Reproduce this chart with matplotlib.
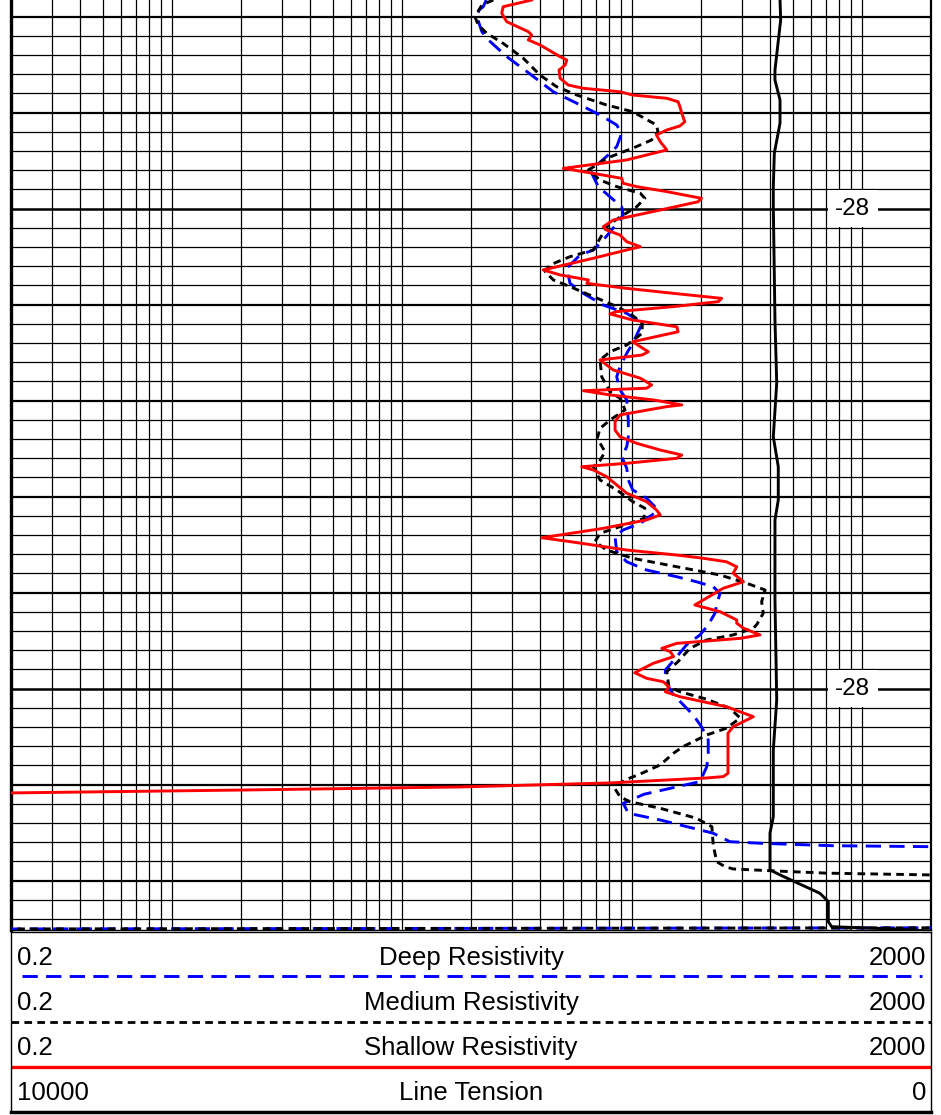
import numpy as np
import matplotlib.pyplot as plt

plt.rcParams['font.family'] = ['Liberation Sans', 'DejaVu Sans']
plt.rcParams['lines.scale_dashes'] = False

# depth in track units: one minor grid step = 1
shallow_depth = [-0.87, -0.52, -0.18, 0.26, 0.78, 0.95, 1.21, 1.47, 2.08, 2.26,
                 2.52, 2.78, 3.21, 3.56, 3.73, 3.91, 4.08, 4.25, 4.43, 4.69,
                 5.03, 5.47, 5.69, 5.90, 6.16, 6.51, 6.94, 7.46, 7.90, 8.16,
                 8.42, 8.68, 8.85, 9.11, 9.46, 9.64, 10.07, 10.59, 10.94, 11.11,
                 11.37, 11.72, 11.98, 12.15, 12.58, 13.19, 13.45, 13.71, 13.89, 14.15,
                 14.41, 14.67, 14.84, 15.10, 15.36, 15.48, 15.80, 16.15, 16.41, 16.93,
                 17.19, 17.45, 17.62, 17.88, 18.40, 18.83, 19.18, 19.35, 19.48, 19.70,
                 19.96, 20.22, 20.31, 20.74, 21.09, 21.53, 21.88, 22.22, 22.57, 22.83,
                 23.00, 23.26, 23.44, 23.61, 23.96, 24.39, 24.82, 25.26, 25.69, 25.95,
                 26.21, 26.65, 27.14, 27.34, 27.78, 28.04, 28.21, 28.39, 28.65, 28.99,
                 29.43, 29.77, 30.64, 30.99, 31.42, 31.59, 31.85, 32.20, 32.38, 32.64,
                 32.90, 33.07, 33.33, 33.68, 34.17, 34.46, 34.64, 34.90, 35.16, 35.42,
                 35.94, 36.46, 36.98, 37.32, 39.41, 39.58, 39.65, 39.91, 40.12, 40.28,
                 40.43]
shallow_res = [36.7, 27.6, 27.2, 28.6, 35.5, 36.7, 35.5, 39.9, 48.8, 52.2,
               51.3, 48.3, 48.8, 53.0, 61.6, 88.9, 101, 142, 159, 162,
               165, 170, 162, 142, 128, 133, 142, 95.1, 50.4, 68.1,
               90.4, 91.8, 105, 142, 201, 194, 133, 83.1, 75.2, 77.8,
               88.9, 95.1, 109, 95.1, 68.1, 41.2, 48.8, 64.8, 63.8, 95.1,
               152, 246, 238, 152, 86.0, 80.4, 101, 157, 159, 101,
               109, 118, 111, 72.8, 83.1, 109, 122, 116, 61.6, 80.4,
               124, 165, 142, 88.9, 84.6, 84.6, 88.9, 105, 133, 165,
               157, 95.1, 60.6, 68.1, 77.8, 86.0, 95.1, 116, 128, 133,
               116, 75.2, 40.6, 53.9, 95.1, 157, 205, 258, 286, 276,
               306, 250, 188, 242, 286, 286, 306, 361, 296, 157,
               135, 147, 152, 124, 103, 116, 137, 145, 140, 162,
               258, 338, 276, 262, 262, 250, 212, 80.4, 17.9, 2.0,
               0.2]

medium_depth = [-0.87, -0.61, 0, 0.43, 0.86, 1.39, 2.17, 3.04, 3.65, 4.08,
                4.60, 4.95, 5.64, 5.99, 6.42, 6.85, 7.20, 7.38, 7.72, 7.98,
                8.51, 8.85, 9.20, 9.46, 9.90, 10.33, 10.85, 11.54, 12.15, 12.50,
                12.93, 13.28, 13.71, 14.06, 14.58, 15.02, 15.45, 15.97, 16.49, 17.10,
                17.45, 17.88, 18.75, 19.53, 19.88, 20.48, 21.01, 21.44, 21.96, 22.66,
                23.11, 23.44, 23.61, 24.13, 24.65, 25.26, 25.60, 26.13, 26.56, 26.91,
                27.34, 27.78, 28.21, 28.65, 29.08, 29.51, 29.86, 30.47, 31.07, 31.65,
                31.85, 32.20, 32.46, 32.90, 33.59, 34.11, 34.90, 35.16, 35.55, 36.02,
                36.53, 37.06, 37.41, 38.02, 38.36, 38.97, 39.44, 39.72, 40.02, 40.22,
                40.63, 40.89, 41.23, 41.75, 42.19, 43.14, 44.01, 44.27, 44.39, 44.49,
                44.61, 44.70, 44.75, 47.45, 47.52]
medium_res = [25.0, 22.3, 20.8, 21.5, 23.4, 27.6, 33.8, 39.9, 47.2, 57.7,
              77.8, 101, 128, 130, 122, 101, 84.6, 77.8, 70.4, 64.8,
              72.8, 86.0, 109, 114, 105, 91.8, 79.0, 72.8, 68.1, 53.9,
              44.1, 42.0, 45.6, 53.9, 68.1, 83.1, 98.2, 111, 111, 95.1,
              80.4, 72.8, 74.0, 80.4, 88.9, 93.5, 80.4, 72.8, 70.8, 76.5,
              72.8, 68.1, 69.2, 72.8, 86.0, 101, 114, 113, 88.9, 72.8,
              69.2, 77.8, 101, 157, 242, 316, 380, 367, 373, 350,
              338, 276, 212, 179, 159, 142, 145, 162, 212, 267,
              296, 258, 212, 167, 152, 133, 109, 95.1, 86.0, 84.6,
              88.9, 98.2, 133, 191, 223, 226, 234, 254, 276, 412,
              706, 1980, 5000, 5000, 0.1]

deep_depth = [-0.87, -0.52, -0.35, 0, 0.78, 1.21, 2.08, 2.86, 3.91, 4.51,
              5.12, 5.64, 6.07, 6.77, 7.20, 7.81, 8.16, 8.85, 9.38, 9.90,
              10.33, 11.11, 11.63, 12.15, 12.41, 13.10, 13.89, 14.41, 15.02, 15.45,
              15.97, 17.01, 17.53, 18.23, 18.75, 19.44, 19.96, 21.01, 21.88, 22.40,
              22.92, 23.52, 24.13, 24.65, 25.08, 25.52, 25.78, 26.39, 26.73, 27.08,
              27.86, 28.39, 28.82, 29.17, 29.43, 29.69, 30.03, 30.64, 31.07, 31.68,
              32.20, 32.72, 33.33, 34.03, 34.64, 35.33, 35.76, 36.37, 36.98, 37.67,
              38.36, 39.06, 39.84, 40.19, 40.50, 40.97, 41.49, 41.84, 42.27, 42.53,
              42.97, 43.05, 43.18, 43.23, 43.27, 47.45, 47.52]
deep_res = [23.3, 22.6, 21.7, 21.2, 22.3, 23.8, 28.6, 35.0, 45.6, 57.7,
            72.8, 86.0, 90.4, 86.0, 79.0, 69.2, 67.0, 71.5, 80.4, 90.4,
            91.8, 81.8, 75.2, 68.1, 59.6, 52.2, 53.9, 61.6, 75.2, 95.1,
            111, 101, 95.1, 88.9, 86.0, 88.9, 95.1, 96.6, 96.6, 95.1,
            90.4, 95.1, 96.6, 101, 116, 126, 128, 109, 91.8, 84.6,
            86.0, 95.1, 116, 157, 191, 226, 242, 234, 230, 215,
            198, 173, 157, 140, 140, 152, 165, 185, 201, 215,
            215, 212, 198, 147, 113, 91.8, 96.6, 133, 185, 226,
            267, 361, 742, 1980, 5000, 5000, 0.1]

tension_depth = [-0.87, 0.17, 2.78, 3.30, 4.34, 5.54, 7.11, 8.85, 9.90, 15.80,
                 19.08, 21.88, 23.44, 25.17, 26.21, 30.38, 35.59, 38.19, 41.67, 42.52,
                 44.44, 44.70, 45.02, 45.66, 46.09, 47.14, 47.40, 47.45, 47.52, 47.62]
tension = [1641, 1634, 1696, 1696, 1641, 1641, 1703, 1714, 1714, 1696,
           1677, 1714, 1660, 1660, 1696, 1696, 1677, 1714, 1714, 1750,
           1750, 1641, 1497, 1207, 1116, 1116, 1079, 772, 413, 11]

depth_marks = [10, 35]
depth_labels = ['-28', '-28']

curve_names = ['Deep Resistivity', 'Medium Resistivity', 'Shallow Resistivity', 'Line Tension']
scale_left = ['0.2', '0.2', '0.2', '10000']
scale_right = ['2000', '2000', '2000', '0']

top_depth, bottom_depth = -0.87, 47.57

W, H = 941, 1115
fig = plt.figure(figsize=(W / 100, H / 100), dpi=100)

# ---- log track ----
ax = fig.add_axes([11 / W, 185 / H, 920 / W, 930 / H])
ax.set_xscale('log')
ax.set_xlim(0.2, 2000)
ax.set_ylim(bottom_depth, top_depth)
ax.set_xticks([])
ax.set_yticks([])
ax.minorticks_off()

for e in range(-1, 4):
    for m in range(1, 10):
        v = m * 10.0 ** e
        if 0.2 < v < 2000:
            ax.axvline(v, color='black', lw=0.9, zorder=1)

for k in range(0, 48):
    if k in depth_marks:
        lw = 1.8
    elif k % 5 == 0:
        lw = 1.6
    else:
        lw = 0.9
    ax.axhline(k, color='black', lw=lw, zorder=1)

ax.plot(deep_res, deep_depth, color='#0000ff', lw=2.1, dashes=(11, 6), zorder=3)
ax.plot(medium_res, medium_depth, color='black', lw=2.1, dashes=(5.5, 3.8), zorder=4)
ax.plot(shallow_res, shallow_depth, color='#ff0000', lw=2.1, zorder=5)

for d, lab in zip(depth_marks, depth_labels):
    ax.text(0.915, d, lab, transform=ax.get_yaxis_transform(), ha='center', va='center',
            fontsize=17.5, zorder=6,
            bbox=dict(boxstyle='square,pad=0.3', facecolor='white', edgecolor='none'))

ax.spines['top'].set_visible(False)
ax.spines['left'].set_linewidth(2.4)
ax.spines['right'].set_linewidth(1.6)
ax.spines['bottom'].set_linewidth(1.0)

# ---- tension on a linear reversed scale ----
ax2 = ax.twiny()
ax2.set_xlim(10000, 0)
ax2.set_ylim(bottom_depth, top_depth)
ax2.set_xticks([])
ax2.plot(tension, tension_depth, color='black', lw=2.1, zorder=6)
for s in ax2.spines.values():
    s.set_visible(False)

# ---- header ----
hd = fig.add_axes([11 / W, 3 / H, 920 / W, 180 / H])
hd.set_xlim(0, 1)
hd.set_ylim(4, 0)
hd.set_xticks([])
hd.set_yticks([])
hd.spines['bottom'].set_linewidth(2.5)
hd.spines['top'].set_linewidth(1.0)
hd.spines['left'].set_linewidth(1.0)
hd.spines['right'].set_linewidth(1.0)

for i, name in enumerate(curve_names):
    y = i + 0.58
    hd.text(0.007, y, scale_left[i], ha='left', va='center', fontsize=18.5)
    hd.text(0.5, y, name, ha='center', va='center', fontsize=18.5)
    hd.text(0.995, y, scale_right[i], ha='right', va='center', fontsize=18.5)

hd.plot([0.012, 0.99], [0.98, 0.98], color='#0000ff', lw=2.1, dashes=(11, 6))
hd.plot([0, 1], [2.0, 2.0], color='black', lw=2.0, dashes=(5.5, 3.8))
hd.plot([0, 1], [3.0, 3.0], color='#ff0000', lw=2.4)

fig.savefig('out.png', dpi=100)
